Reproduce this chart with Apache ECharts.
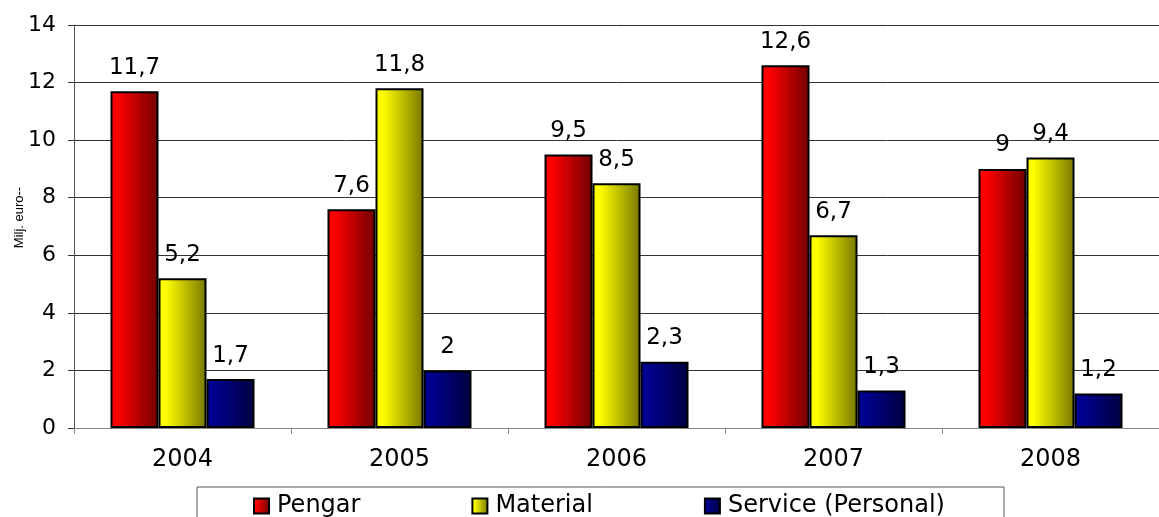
<!DOCTYPE html>
<html>
<head>
<meta charset="utf-8">
<script src="https://cdn.jsdelivr.net/npm/echarts@6/dist/echarts.min.js"></script>
<style>
  html, body { margin: 0; padding: 0; background: #fff; }
  #chart { width: 1159px; height: 517px; }
</style>
</head>
<body>
<div id="chart"></div>
<script>
var years = ["2004", "2005", "2006", "2007", "2008"];
var pengar = [11.7, 7.6, 9.5, 12.6, 9];
var material = [5.2, 11.8, 8.5, 6.7, 9.4];
var service = [1.7, 2, 2.3, 1.3, 1.2];
var yTicks = { min: 0, max: 14, interval: 2 };

var FONT = "DejaVu Sans";

// horizontal gradient like the old Excel bars
function grad(c1, c2) {
  return new echarts.graphic.LinearGradient(0, 0, 1, 0, [
    { offset: 0, color: c1 },
    { offset: 0.15, color: c1 },
    { offset: 1, color: c2 },
  ]);
}

function bar(name, data, c1, c2) {
  return {
    name: name,
    type: "bar",
    data: data,
    barWidth: 48,
    barGap: "0%",
    itemStyle: {
      color: grad(c1, c2),
      borderColor: "#000",
      borderWidth: 2,
    },
    label: {
      show: true,
      position: "top",
      distance: 12,
      color: "#000",
      fontFamily: FONT,
      fontSize: 23,
      formatter: function (p) {
        return String(p.value).replace(".", ",");
      },
    },
  };
}

var chart = echarts.init(document.getElementById("chart"));
chart.setOption({
  animation: false,
  grid: { left: 74, right: 0, top: 25, bottom: 89, containLabel: false, outerBoundsMode: "none" },
  legend: {
    left: 197,
    top: 487,
    padding: [7, 59, 30, 56],
    itemGap: 111,
    itemWidth: 15,
    itemHeight: 15,
    icon: "rect",
    borderColor: "#555",
    borderWidth: 1,
    textStyle: { fontFamily: FONT, fontSize: 24, color: "#000", padding: [0, 0, 0, 3] },
    data: ["Pengar", "Material", "Service (Personal)"],
  },
  xAxis: {
    type: "category",
    data: years,
    axisLine: { lineStyle: { color: "#888", width: 1 } },
    axisTick: { show: true, length: 6, alignWithLabel: false, lineStyle: { color: "#888" } },
    axisLabel: { color: "#000", fontFamily: FONT, fontSize: 24, margin: 20 },
  },
  yAxis: {
    type: "value",
    min: yTicks.min,
    max: yTicks.max,
    interval: yTicks.interval,
    name: "Milj. euro--",
    nameLocation: "middle",
    nameGap: 48,
    nameMoveOverlap: false,
    nameRotate: 90,
    nameTextStyle: { fontFamily: "Liberation Sans", fontSize: 13, color: "#000", padding: [0, 0, 0, 18] },
    axisLine: { show: true, lineStyle: { color: "#555", width: 1 } },
    axisTick: { show: true, length: 6, lineStyle: { color: "#333" } },
    axisLabel: { color: "#000", fontFamily: FONT, fontSize: 22, margin: 18 },
    splitLine: { show: true, lineStyle: { color: "#333", width: 1 } },
  },
  series: [
    bar("Pengar", pengar, "#ff0000", "#700000"),
    bar("Material", material, "#ffff00", "#777700"),
    bar("Service (Personal)", service, "#000090", "#000040"),
  ],
});
</script>
</body>
</html>
